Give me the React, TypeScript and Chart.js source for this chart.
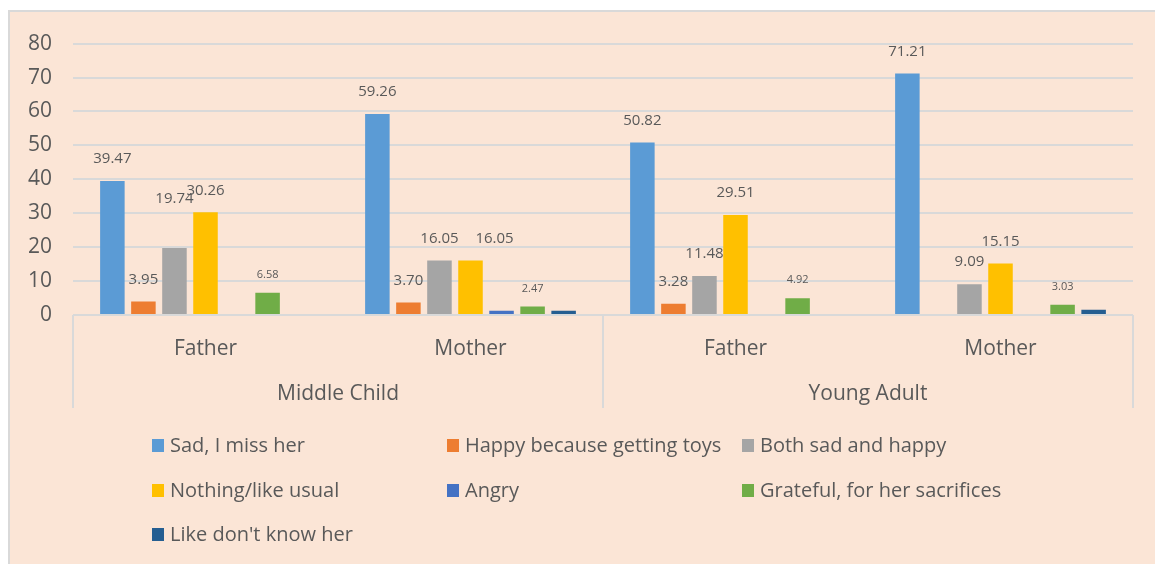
import React, { useEffect, useRef } from 'react';
import { Chart, registerables } from 'chart.js';

Chart.register(...registerables);

// ---- Data ----
const categories = ['Father', 'Mother', 'Father', 'Mother'];
const groups = ['Middle Child', 'Young Adult'];
const seriesNames = [
  'Sad, I miss her',
  'Happy because getting toys',
  'Both sad and happy',
  'Nothing/like usual',
  'Angry',
  'Grateful, for her sacrifices',
  "Like don't know her",
];
const sadMissHer = [39.47, 59.26, 50.82, 71.21];
const happyToys = [3.95, 3.7, 3.28, null];
const bothSadHappy = [19.74, 16.05, 11.48, 9.09];
const nothingUsual = [30.26, 16.05, 29.51, 15.15];
const angry = [null, 1.23, null, null];
const grateful = [6.58, 2.47, 4.92, 3.03];
const dontKnowHer = [null, 1.23, null, 1.52];
const yTicks = [0, 10, 20, 30, 40, 50, 60, 70, 80];

const seriesValues = [sadMissHer, happyToys, bothSadHappy, nothingUsual, angry, grateful, dontKnowHer];
const seriesColors = ['#5B9BD5', '#ED7D31', '#A5A5A5', '#FFC000', '#4472C4', '#70AD47', '#255E91'];
// label style per series: 'big', 'small' or none
const labelStyle = ['big', 'big', 'big', 'big', null, 'small', null];

const FONT = "'Open Sans', 'Liberation Sans', sans-serif";
const TEXT = '#595959';
const GRID = '#D9D9D9';
const BG = '#FBE5D6';

const backgroundPlugin = {
  id: 'bgPlugin',
  beforeDraw(chart: any) {
    const { ctx, width, height } = chart;
    ctx.save();
    ctx.fillStyle = BG;
    ctx.fillRect(0, 0, width, height);
    ctx.fillStyle = GRID;
    ctx.fillRect(0, 0, 2, height);
    ctx.fillRect(0, 0, width, 2);
    ctx.restore();
  },
};

const valueLabelPlugin = {
  id: 'valueLabels',
  afterDatasetsDraw(chart: any) {
    const { ctx } = chart;
    ctx.save();
    ctx.fillStyle = TEXT;
    ctx.textAlign = 'center';
    ctx.textBaseline = 'middle';
    chart.data.datasets.forEach((ds: any, di: number) => {
      const style = labelStyle[di];
      if (!style) return;
      const meta = chart.getDatasetMeta(di);
      meta.data.forEach((bar: any, i: number) => {
        const v = ds.data[i];
        if (v === null || v === undefined) return;
        let offset = style === 'big' ? 22 : 18;
        let dx = 0;
        if (di === 2 && i === 0) offset += 27; // lifted label as in the reference
        if (di === 3 && i === 1) dx = 24; // label moved aside to avoid overlap
        ctx.font = `${style === 'big' ? 15 : 11}px ${FONT}`;
        ctx.fillText(Number(v).toFixed(2), bar.x + dx, bar.y - offset);
      });
    });
    ctx.restore();
  },
};

const axisDecorPlugin = {
  id: 'axisDecor',
  afterDraw(chart: any) {
    const { ctx, chartArea } = chart;
    const xs = chart.scales.x;
    ctx.save();
    // group separators
    const mid = (xs.getPixelForValue(1) + xs.getPixelForValue(2)) / 2;
    const seps = [chartArea.left, mid, chartArea.right];
    ctx.strokeStyle = GRID;
    ctx.lineWidth = 2;
    seps.forEach((x) => {
      ctx.beginPath();
      ctx.moveTo(x, chartArea.bottom);
      ctx.lineTo(x, chartArea.bottom + 93);
      ctx.stroke();
    });
    // group labels
    ctx.fillStyle = TEXT;
    ctx.font = `21px ${FONT}`;
    ctx.textAlign = 'center';
    ctx.textBaseline = 'middle';
    ctx.fillText(groups[0], (seps[0] + seps[1]) / 2, chartArea.bottom + 79);
    ctx.fillText(groups[1], (seps[1] + seps[2]) / 2, chartArea.bottom + 79);

    // legend grid (3 columns)
    const left = 144;
    const colW = 295;
    const rowY = [436, 481, 525];
    ctx.font = `20px ${FONT}`;
    ctx.textAlign = 'left';
    chart.data.datasets.forEach((ds: any, i: number) => {
      const col = i % 3;
      const row = Math.floor(i / 3);
      const x = left + col * colW;
      const y = rowY[row];
      ctx.fillStyle = ds.backgroundColor;
      ctx.fillRect(x, y - 7, 12, 13);
      ctx.fillStyle = TEXT;
      ctx.fillText(ds.label, x + 18, y);
    });
    ctx.restore();
  },
};

export default function App() {
  const canvasRef = useRef<HTMLCanvasElement | null>(null);

  useEffect(() => {
    const canvas = canvasRef.current;
    if (!canvas) return;
    const chart = new Chart(canvas, {
      type: 'bar',
      data: {
        labels: categories,
        datasets: seriesNames.map((name, i) => ({
          label: name,
          data: seriesValues[i],
          backgroundColor: seriesColors[i],
          borderWidth: 0,
          categoryPercentage: 0.82,
          barPercentage: 0.79,
        })),
      },
      options: {
        responsive: false,
        animation: false,
        devicePixelRatio: 1,
        layout: { padding: { top: 27, right: 22, bottom: 149, left: 0 } },
        plugins: {
          legend: { display: false },
          tooltip: { enabled: false },
        },
        scales: {
          x: {
            grid: { display: false, drawTicks: false },
            border: { display: false },
            ticks: {
              color: TEXT,
              font: { family: FONT, size: 21 },
              padding: 21,
              maxRotation: 0,
            },
            afterFit: (scale: any) => {
              scale.height = 100;
            },
          },
          y: {
            min: 0,
            max: 80,
            afterBuildTicks: (scale: any) => {
              scale.ticks = yTicks.map((v) => ({ value: v }));
            },
            grid: { color: GRID, lineWidth: 2, drawTicks: false },
            border: { display: false },
            ticks: {
              color: TEXT,
              font: { family: FONT, size: 21 },
              padding: 21,
            },
            afterFit: (scale: any) => {
              scale.width = 65;
            },
          },
        },
      },
      plugins: [backgroundPlugin, valueLabelPlugin, axisDecorPlugin],
    });
    return () => chart.destroy();
  }, []);

  return (
    <div style={{ position: 'fixed', left: 8, top: 10, width: 1147, height: 554 }}>
      <canvas ref={canvasRef} width={1147} height={554} />
    </div>
  );
}
